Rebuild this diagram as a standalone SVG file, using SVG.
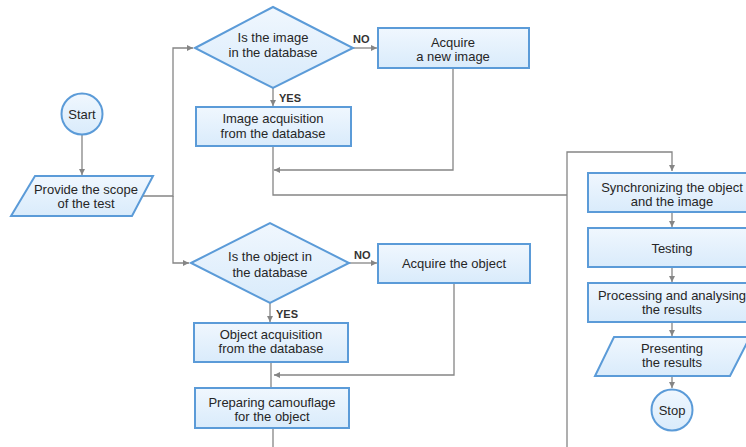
<svg xmlns="http://www.w3.org/2000/svg" width="746" height="447" viewBox="0 0 746 447">
<style>
.n{fill:url(#g);stroke:#5b9bd8;stroke-width:2}
.t{font-family:"Liberation Sans",Arial,sans-serif;font-size:13px;fill:#262626;text-anchor:middle}
.l{font-family:"Liberation Sans",Arial,sans-serif;font-size:11px;font-weight:bold;fill:#333}
.c{fill:none;stroke:#858585;stroke-width:1.3}
</style>
<defs>
<linearGradient id="g" x1="0" y1="0" x2="0" y2="1"><stop offset="0" stop-color="#f0f7fe"/><stop offset="1" stop-color="#d9ebfb"/></linearGradient>
<marker id="a" markerWidth="8" markerHeight="8" refX="6" refY="3" orient="auto" markerUnits="userSpaceOnUse"><path d="M0,0 L6,3 L0,6 z" fill="#858585"/></marker>
</defs>
<rect width="746" height="447" fill="#fff"/>
<g id="connectors">
<path class="c" d="M82,135 V175" marker-end="url(#a)"/>
<path class="c" d="M143,196 H173 V48 H193" marker-end="url(#a)"/>
<path class="c" d="M173,196 V263 H189" marker-end="url(#a)"/>
<path class="c" d="M353,48 H377" marker-end="url(#a)"/>
<path class="c" d="M273,88 V106" marker-end="url(#a)"/>
<path class="c" d="M453,68 V170 H274" marker-end="url(#a)"/>
<path class="c" d="M273,146 V195 H567"/>
<path class="c" d="M567,447 V152 H672 V171" marker-end="url(#a)"/>
<path class="c" d="M349,263 H377" marker-end="url(#a)"/>
<path class="c" d="M270,303 V322" marker-end="url(#a)"/>
<path class="c" d="M454,283 V375 H274" marker-end="url(#a)"/>
<path class="c" d="M271,362 V388"/>
<path class="c" d="M273,428 V447"/>
<path class="c" d="M672,212 V227" marker-end="url(#a)"/>
<path class="c" d="M672,267 V282" marker-end="url(#a)"/>
<path class="c" d="M672,322 V336" marker-end="url(#a)"/>
<path class="c" d="M672,376 V388" marker-end="url(#a)"/>
<text class="l" x="353" y="43">NO</text>
<text class="l" x="279" y="102">YES</text>
<text class="l" x="354" y="259">NO</text>
<text class="l" x="276" y="318">YES</text>
</g>
<g id="start"><circle class="n" cx="82" cy="114" r="20.5"/><text class="t" x="82" y="118.5">Start</text></g>
<g id="scope"><polygon class="n" points="35,176 153,176 132,216 11,216"/><text class="t" x="86" y="193.5">Provide the scope</text><text class="t" x="86" y="208">of the test</text></g>
<g id="dec-image"><polygon class="n" points="195,48 273,7 353,48 273,88"/><text class="t" x="273" y="41.5">Is the image</text><text class="t" x="273" y="56.5">in the database</text></g>
<g id="acq-image"><rect class="n" x="378" y="28" width="151" height="40"/><text class="t" x="453" y="46.5">Acquire</text><text class="t" x="453" y="60.5">a new image</text></g>
<g id="img-db"><rect class="n" x="196" y="107" width="155" height="39"/><text class="t" x="273" y="122.5">Image acquisition</text><text class="t" x="273" y="137.5">from the database</text></g>
<g id="dec-object"><polygon class="n" points="191,263 270,223 349,263 270,303"/><text class="t" x="270" y="260.5">Is the object in</text><text class="t" x="270" y="276.5">the database</text></g>
<g id="acq-object"><rect class="n" x="378" y="244" width="152" height="39"/><text class="t" x="454" y="267.5">Acquire the object</text></g>
<g id="obj-db"><rect class="n" x="194" y="323" width="154" height="39"/><text class="t" x="271" y="338.5">Object acquisition</text><text class="t" x="271" y="352.5">from the database</text></g>
<g id="camouflage"><rect class="n" x="195" y="388" width="154" height="40"/><text class="t" x="272" y="406.5">Preparing camouflage</text><text class="t" x="272" y="420.5">for the object</text></g>
<g id="sync"><rect class="n" x="588" y="173" width="168" height="39"/><text class="t" x="672" y="191.5">Synchronizing the object</text><text class="t" x="672" y="206">and the image</text></g>
<g id="testing"><rect class="n" x="588" y="228" width="168" height="39"/><text class="t" x="672" y="252.5">Testing</text></g>
<g id="processing"><rect class="n" x="588" y="283" width="168" height="39"/><text class="t" x="672" y="299.5">Processing and analysing</text><text class="t" x="672" y="313.5">the results</text></g>
<g id="presenting"><polygon class="n" points="614,337 750,337 730,376 595,376"/><text class="t" x="672" y="352.5">Presenting</text><text class="t" x="672" y="366.5">the results</text></g>
<g id="stop"><circle class="n" cx="672" cy="410" r="20.5"/><text class="t" x="672" y="414.5">Stop</text></g>
</svg>
